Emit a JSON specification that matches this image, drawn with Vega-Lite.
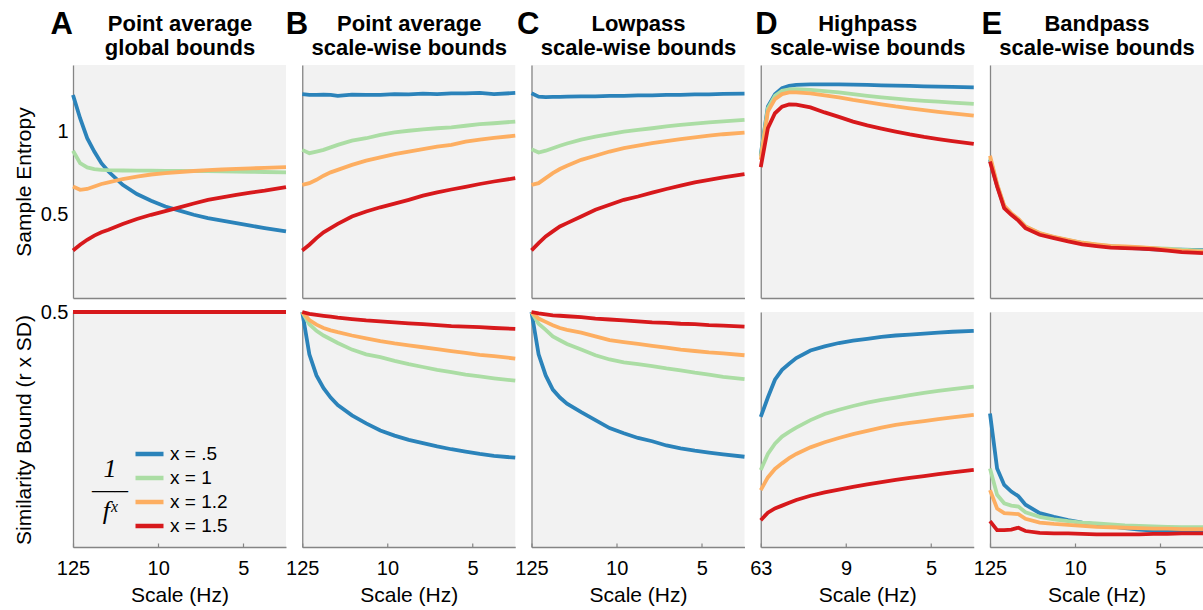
{
"$schema":"https://vega.github.io/schema/vega-lite/v6.json",
"padding":{"left":13,"top":8,"right":0,"bottom":1},
"background":"white",
"datasets":{
"At":[
{"exp":".5","s":1,"v":1.22},{"exp":".5","s":2,"v":1.08},{"exp":".5","s":3,"v":0.96},{"exp":".5","s":4,"v":0.88},{"exp":".5","s":5,"v":0.81},{"exp":".5","s":6,"v":0.76},{"exp":".5","s":8,"v":0.68},{"exp":".5","s":10,"v":0.625},{"exp":".5","s":12,"v":0.585},{"exp":".5","s":14,"v":0.55},{"exp":".5","s":16,"v":0.525},{"exp":".5","s":18,"v":0.5},{"exp":".5","s":20,"v":0.48},{"exp":".5","s":22,"v":0.465},{"exp":".5","s":24,"v":0.45},{"exp":".5","s":26,"v":0.435},{"exp":".5","s":28,"v":0.42},{"exp":".5","s":31,"v":0.4},
{"exp":"1","s":1,"v":0.885},{"exp":"1","s":2,"v":0.81},{"exp":"1","s":3,"v":0.785},{"exp":"1","s":4,"v":0.775},{"exp":"1","s":5,"v":0.77},{"exp":"1","s":6,"v":0.768},{"exp":"1","s":8,"v":0.766},{"exp":"1","s":10,"v":0.765},{"exp":"1","s":12,"v":0.765},{"exp":"1","s":14,"v":0.764},{"exp":"1","s":16,"v":0.763},{"exp":"1","s":18,"v":0.762},{"exp":"1","s":20,"v":0.763},{"exp":"1","s":22,"v":0.761},{"exp":"1","s":24,"v":0.76},{"exp":"1","s":26,"v":0.758},{"exp":"1","s":28,"v":0.757},{"exp":"1","s":31,"v":0.755},
{"exp":"1.2","s":1,"v":0.67},{"exp":"1.2","s":2,"v":0.65},{"exp":"1.2","s":3,"v":0.655},{"exp":"1.2","s":4,"v":0.67},{"exp":"1.2","s":5,"v":0.685},{"exp":"1.2","s":6,"v":0.695},{"exp":"1.2","s":8,"v":0.715},{"exp":"1.2","s":10,"v":0.73},{"exp":"1.2","s":12,"v":0.742},{"exp":"1.2","s":14,"v":0.75},{"exp":"1.2","s":16,"v":0.757},{"exp":"1.2","s":18,"v":0.763},{"exp":"1.2","s":20,"v":0.768},{"exp":"1.2","s":22,"v":0.772},{"exp":"1.2","s":24,"v":0.776},{"exp":"1.2","s":26,"v":0.779},{"exp":"1.2","s":28,"v":0.782},{"exp":"1.2","s":31,"v":0.786},
{"exp":"1.5","s":1,"v":0.286},{"exp":"1.5","s":2,"v":0.32},{"exp":"1.5","s":3,"v":0.35},{"exp":"1.5","s":4,"v":0.375},{"exp":"1.5","s":5,"v":0.395},{"exp":"1.5","s":6,"v":0.41},{"exp":"1.5","s":8,"v":0.445},{"exp":"1.5","s":10,"v":0.475},{"exp":"1.5","s":12,"v":0.5},{"exp":"1.5","s":14,"v":0.522},{"exp":"1.5","s":16,"v":0.545},{"exp":"1.5","s":18,"v":0.568},{"exp":"1.5","s":20,"v":0.59},{"exp":"1.5","s":22,"v":0.605},{"exp":"1.5","s":24,"v":0.62},{"exp":"1.5","s":26,"v":0.633},{"exp":"1.5","s":28,"v":0.645},{"exp":"1.5","s":31,"v":0.666}
],
"Ab":[
{"exp":".5","s":1,"v":0.5},{"exp":".5","s":8,"v":0.5},{"exp":".5","s":16,"v":0.5},{"exp":".5","s":24,"v":0.5},{"exp":".5","s":31,"v":0.5},
{"exp":"1","s":1,"v":0.5},{"exp":"1","s":8,"v":0.5},{"exp":"1","s":16,"v":0.5},{"exp":"1","s":24,"v":0.5},{"exp":"1","s":31,"v":0.5},
{"exp":"1.2","s":1,"v":0.5},{"exp":"1.2","s":8,"v":0.5},{"exp":"1.2","s":16,"v":0.5},{"exp":"1.2","s":24,"v":0.5},{"exp":"1.2","s":31,"v":0.5},
{"exp":"1.5","s":1,"v":0.5},{"exp":"1.5","s":8,"v":0.5},{"exp":"1.5","s":16,"v":0.5},{"exp":"1.5","s":24,"v":0.5},{"exp":"1.5","s":31,"v":0.5}
],
"Bt":[
{"exp":".5","s":1,"v":1.225},{"exp":".5","s":2,"v":1.22},{"exp":".5","s":3,"v":1.22},{"exp":".5","s":4,"v":1.222},{"exp":".5","s":5,"v":1.22},{"exp":".5","s":6,"v":1.215},{"exp":".5","s":8,"v":1.222},{"exp":".5","s":10,"v":1.22},{"exp":".5","s":12,"v":1.22},{"exp":".5","s":14,"v":1.225},{"exp":".5","s":16,"v":1.224},{"exp":".5","s":18,"v":1.228},{"exp":".5","s":20,"v":1.225},{"exp":".5","s":22,"v":1.23},{"exp":".5","s":24,"v":1.23},{"exp":".5","s":26,"v":1.232},{"exp":".5","s":28,"v":1.225},{"exp":".5","s":31,"v":1.232},
{"exp":"1","s":1,"v":0.89},{"exp":"1","s":2,"v":0.87},{"exp":"1","s":3,"v":0.88},{"exp":"1","s":4,"v":0.89},{"exp":"1","s":5,"v":0.905},{"exp":"1","s":6,"v":0.92},{"exp":"1","s":8,"v":0.945},{"exp":"1","s":10,"v":0.96},{"exp":"1","s":12,"v":0.98},{"exp":"1","s":14,"v":0.995},{"exp":"1","s":16,"v":1.005},{"exp":"1","s":18,"v":1.013},{"exp":"1","s":20,"v":1.02},{"exp":"1","s":22,"v":1.025},{"exp":"1","s":24,"v":1.035},{"exp":"1","s":26,"v":1.045},{"exp":"1","s":28,"v":1.05},{"exp":"1","s":31,"v":1.06},
{"exp":"1.2","s":1,"v":0.68},{"exp":"1.2","s":2,"v":0.69},{"exp":"1.2","s":3,"v":0.71},{"exp":"1.2","s":4,"v":0.735},{"exp":"1.2","s":5,"v":0.755},{"exp":"1.2","s":6,"v":0.77},{"exp":"1.2","s":8,"v":0.8},{"exp":"1.2","s":10,"v":0.825},{"exp":"1.2","s":12,"v":0.845},{"exp":"1.2","s":14,"v":0.865},{"exp":"1.2","s":16,"v":0.88},{"exp":"1.2","s":18,"v":0.895},{"exp":"1.2","s":20,"v":0.91},{"exp":"1.2","s":22,"v":0.92},{"exp":"1.2","s":24,"v":0.94},{"exp":"1.2","s":26,"v":0.952},{"exp":"1.2","s":28,"v":0.962},{"exp":"1.2","s":31,"v":0.975},
{"exp":"1.5","s":1,"v":0.286},{"exp":"1.5","s":2,"v":0.32},{"exp":"1.5","s":3,"v":0.36},{"exp":"1.5","s":4,"v":0.395},{"exp":"1.5","s":5,"v":0.42},{"exp":"1.5","s":6,"v":0.445},{"exp":"1.5","s":8,"v":0.49},{"exp":"1.5","s":10,"v":0.52},{"exp":"1.5","s":12,"v":0.545},{"exp":"1.5","s":14,"v":0.567},{"exp":"1.5","s":16,"v":0.59},{"exp":"1.5","s":18,"v":0.615},{"exp":"1.5","s":20,"v":0.635},{"exp":"1.5","s":22,"v":0.652},{"exp":"1.5","s":24,"v":0.668},{"exp":"1.5","s":26,"v":0.685},{"exp":"1.5","s":28,"v":0.7},{"exp":"1.5","s":31,"v":0.72}
],
"Bb":[
{"exp":".5","s":1,"v":0.5},{"exp":".5","s":2,"v":0.41},{"exp":".5","s":3,"v":0.365},{"exp":".5","s":4,"v":0.338},{"exp":".5","s":5,"v":0.318},{"exp":".5","s":6,"v":0.302},{"exp":".5","s":8,"v":0.28},{"exp":".5","s":10,"v":0.263},{"exp":".5","s":12,"v":0.248},{"exp":".5","s":14,"v":0.237},{"exp":".5","s":16,"v":0.228},{"exp":".5","s":18,"v":0.221},{"exp":".5","s":20,"v":0.214},{"exp":".5","s":22,"v":0.208},{"exp":".5","s":24,"v":0.203},{"exp":".5","s":26,"v":0.198},{"exp":".5","s":28,"v":0.194},{"exp":".5","s":31,"v":0.19},
{"exp":"1","s":1,"v":0.5},{"exp":"1","s":2,"v":0.474},{"exp":"1","s":3,"v":0.46},{"exp":"1","s":4,"v":0.45},{"exp":"1","s":5,"v":0.442},{"exp":"1","s":6,"v":0.434},{"exp":"1","s":8,"v":0.42},{"exp":"1","s":10,"v":0.41},{"exp":"1","s":12,"v":0.404},{"exp":"1","s":14,"v":0.396},{"exp":"1","s":16,"v":0.389},{"exp":"1","s":18,"v":0.383},{"exp":"1","s":20,"v":0.377},{"exp":"1","s":22,"v":0.372},{"exp":"1","s":24,"v":0.367},{"exp":"1","s":26,"v":0.363},{"exp":"1","s":28,"v":0.359},{"exp":"1","s":31,"v":0.354},
{"exp":"1.2","s":1,"v":0.5},{"exp":"1.2","s":2,"v":0.483},{"exp":"1.2","s":3,"v":0.473},{"exp":"1.2","s":4,"v":0.466},{"exp":"1.2","s":5,"v":0.461},{"exp":"1.2","s":6,"v":0.457},{"exp":"1.2","s":8,"v":0.45},{"exp":"1.2","s":10,"v":0.444},{"exp":"1.2","s":12,"v":0.438},{"exp":"1.2","s":14,"v":0.433},{"exp":"1.2","s":16,"v":0.429},{"exp":"1.2","s":18,"v":0.425},{"exp":"1.2","s":20,"v":0.421},{"exp":"1.2","s":22,"v":0.417},{"exp":"1.2","s":24,"v":0.413},{"exp":"1.2","s":26,"v":0.409},{"exp":"1.2","s":28,"v":0.406},{"exp":"1.2","s":31,"v":0.401},
{"exp":"1.5","s":1,"v":0.5},{"exp":"1.5","s":2,"v":0.496},{"exp":"1.5","s":3,"v":0.494},{"exp":"1.5","s":4,"v":0.492},{"exp":"1.5","s":5,"v":0.49},{"exp":"1.5","s":6,"v":0.488},{"exp":"1.5","s":8,"v":0.485},{"exp":"1.5","s":10,"v":0.482},{"exp":"1.5","s":12,"v":0.48},{"exp":"1.5","s":14,"v":0.478},{"exp":"1.5","s":16,"v":0.476},{"exp":"1.5","s":18,"v":0.474},{"exp":"1.5","s":20,"v":0.472},{"exp":"1.5","s":22,"v":0.47},{"exp":"1.5","s":24,"v":0.469},{"exp":"1.5","s":26,"v":0.468},{"exp":"1.5","s":28,"v":0.466},{"exp":"1.5","s":31,"v":0.464}
],
"Ct":[
{"exp":".5","s":1,"v":1.23},{"exp":".5","s":2,"v":1.21},{"exp":".5","s":3,"v":1.207},{"exp":".5","s":4,"v":1.208},{"exp":".5","s":5,"v":1.209},{"exp":".5","s":6,"v":1.21},{"exp":".5","s":8,"v":1.211},{"exp":".5","s":10,"v":1.212},{"exp":".5","s":12,"v":1.214},{"exp":".5","s":14,"v":1.215},{"exp":".5","s":16,"v":1.217},{"exp":".5","s":18,"v":1.218},{"exp":".5","s":20,"v":1.22},{"exp":".5","s":22,"v":1.221},{"exp":".5","s":24,"v":1.223},{"exp":".5","s":26,"v":1.224},{"exp":".5","s":28,"v":1.226},{"exp":".5","s":31,"v":1.228},
{"exp":"1","s":1,"v":0.894},{"exp":"1","s":2,"v":0.874},{"exp":"1","s":3,"v":0.885},{"exp":"1","s":4,"v":0.9},{"exp":"1","s":5,"v":0.915},{"exp":"1","s":6,"v":0.928},{"exp":"1","s":8,"v":0.952},{"exp":"1","s":10,"v":0.97},{"exp":"1","s":12,"v":0.985},{"exp":"1","s":14,"v":1.0},{"exp":"1","s":16,"v":1.01},{"exp":"1","s":18,"v":1.02},{"exp":"1","s":20,"v":1.031},{"exp":"1","s":22,"v":1.04},{"exp":"1","s":24,"v":1.048},{"exp":"1","s":26,"v":1.055},{"exp":"1","s":28,"v":1.061},{"exp":"1","s":31,"v":1.07},
{"exp":"1.2","s":1,"v":0.68},{"exp":"1.2","s":2,"v":0.69},{"exp":"1.2","s":3,"v":0.72},{"exp":"1.2","s":4,"v":0.75},{"exp":"1.2","s":5,"v":0.775},{"exp":"1.2","s":6,"v":0.795},{"exp":"1.2","s":8,"v":0.83},{"exp":"1.2","s":10,"v":0.855},{"exp":"1.2","s":12,"v":0.88},{"exp":"1.2","s":14,"v":0.9},{"exp":"1.2","s":16,"v":0.915},{"exp":"1.2","s":18,"v":0.93},{"exp":"1.2","s":20,"v":0.943},{"exp":"1.2","s":22,"v":0.955},{"exp":"1.2","s":24,"v":0.965},{"exp":"1.2","s":26,"v":0.975},{"exp":"1.2","s":28,"v":0.984},{"exp":"1.2","s":31,"v":0.994},
{"exp":"1.5","s":1,"v":0.286},{"exp":"1.5","s":2,"v":0.33},{"exp":"1.5","s":3,"v":0.37},{"exp":"1.5","s":4,"v":0.4},{"exp":"1.5","s":5,"v":0.43},{"exp":"1.5","s":6,"v":0.45},{"exp":"1.5","s":8,"v":0.49},{"exp":"1.5","s":10,"v":0.53},{"exp":"1.5","s":12,"v":0.56},{"exp":"1.5","s":14,"v":0.59},{"exp":"1.5","s":16,"v":0.61},{"exp":"1.5","s":18,"v":0.633},{"exp":"1.5","s":20,"v":0.655},{"exp":"1.5","s":22,"v":0.675},{"exp":"1.5","s":24,"v":0.695},{"exp":"1.5","s":26,"v":0.71},{"exp":"1.5","s":28,"v":0.725},{"exp":"1.5","s":31,"v":0.744}
],
"Cb":[
{"exp":".5","s":1,"v":0.5},{"exp":".5","s":2,"v":0.41},{"exp":".5","s":3,"v":0.365},{"exp":".5","s":4,"v":0.335},{"exp":".5","s":5,"v":0.318},{"exp":".5","s":6,"v":0.305},{"exp":".5","s":8,"v":0.287},{"exp":".5","s":10,"v":0.27},{"exp":".5","s":12,"v":0.253},{"exp":".5","s":14,"v":0.242},{"exp":".5","s":16,"v":0.232},{"exp":".5","s":18,"v":0.225},{"exp":".5","s":20,"v":0.216},{"exp":".5","s":22,"v":0.21},{"exp":".5","s":24,"v":0.205},{"exp":".5","s":26,"v":0.201},{"exp":".5","s":28,"v":0.197},{"exp":".5","s":31,"v":0.192},
{"exp":"1","s":1,"v":0.5},{"exp":"1","s":2,"v":0.475},{"exp":"1","s":3,"v":0.462},{"exp":"1","s":4,"v":0.448},{"exp":"1","s":5,"v":0.44},{"exp":"1","s":6,"v":0.432},{"exp":"1","s":8,"v":0.42},{"exp":"1","s":10,"v":0.408},{"exp":"1","s":12,"v":0.399},{"exp":"1","s":14,"v":0.393},{"exp":"1","s":16,"v":0.389},{"exp":"1","s":18,"v":0.385},{"exp":"1","s":20,"v":0.38},{"exp":"1","s":22,"v":0.376},{"exp":"1","s":24,"v":0.371},{"exp":"1","s":26,"v":0.367},{"exp":"1","s":28,"v":0.362},{"exp":"1","s":31,"v":0.357},
{"exp":"1.2","s":1,"v":0.5},{"exp":"1.2","s":2,"v":0.486},{"exp":"1.2","s":3,"v":0.479},{"exp":"1.2","s":4,"v":0.472},{"exp":"1.2","s":5,"v":0.466},{"exp":"1.2","s":6,"v":0.462},{"exp":"1.2","s":8,"v":0.456},{"exp":"1.2","s":10,"v":0.448},{"exp":"1.2","s":12,"v":0.44},{"exp":"1.2","s":14,"v":0.436},{"exp":"1.2","s":16,"v":0.432},{"exp":"1.2","s":18,"v":0.428},{"exp":"1.2","s":20,"v":0.424},{"exp":"1.2","s":22,"v":0.42},{"exp":"1.2","s":24,"v":0.417},{"exp":"1.2","s":26,"v":0.414},{"exp":"1.2","s":28,"v":0.412},{"exp":"1.2","s":31,"v":0.408},
{"exp":"1.5","s":1,"v":0.5},{"exp":"1.5","s":2,"v":0.497},{"exp":"1.5","s":3,"v":0.495},{"exp":"1.5","s":4,"v":0.493},{"exp":"1.5","s":5,"v":0.492},{"exp":"1.5","s":6,"v":0.491},{"exp":"1.5","s":8,"v":0.489},{"exp":"1.5","s":10,"v":0.486},{"exp":"1.5","s":12,"v":0.484},{"exp":"1.5","s":14,"v":0.482},{"exp":"1.5","s":16,"v":0.48},{"exp":"1.5","s":18,"v":0.478},{"exp":"1.5","s":20,"v":0.477},{"exp":"1.5","s":22,"v":0.475},{"exp":"1.5","s":24,"v":0.474},{"exp":"1.5","s":26,"v":0.472},{"exp":"1.5","s":28,"v":0.471},{"exp":"1.5","s":31,"v":0.469}
],
"Dt":[
{"exp":".5","s":2,"v":0.86},{"exp":".5","s":3,"v":1.15},{"exp":".5","s":4,"v":1.225},{"exp":".5","s":5,"v":1.26},{"exp":".5","s":6,"v":1.275},{"exp":".5","s":7,"v":1.281},{"exp":".5","s":9,"v":1.284},{"exp":".5","s":11,"v":1.284},{"exp":".5","s":13,"v":1.283},{"exp":".5","s":15,"v":1.282},{"exp":".5","s":17,"v":1.28},{"exp":".5","s":19,"v":1.278},{"exp":".5","s":21,"v":1.276},{"exp":".5","s":23,"v":1.274},{"exp":".5","s":25,"v":1.272},{"exp":".5","s":27,"v":1.27},{"exp":".5","s":29,"v":1.268},{"exp":".5","s":32,"v":1.266},
{"exp":"1","s":2,"v":0.85},{"exp":"1","s":3,"v":1.14},{"exp":"1","s":4,"v":1.215},{"exp":"1","s":5,"v":1.245},{"exp":"1","s":6,"v":1.253},{"exp":"1","s":7,"v":1.255},{"exp":"1","s":9,"v":1.251},{"exp":"1","s":11,"v":1.243},{"exp":"1","s":13,"v":1.235},{"exp":"1","s":15,"v":1.225},{"exp":"1","s":17,"v":1.215},{"exp":"1","s":19,"v":1.206},{"exp":"1","s":21,"v":1.198},{"exp":"1","s":23,"v":1.191},{"exp":"1","s":25,"v":1.185},{"exp":"1","s":27,"v":1.18},{"exp":"1","s":29,"v":1.174},{"exp":"1","s":32,"v":1.166},
{"exp":"1.2","s":2,"v":0.83},{"exp":"1.2","s":3,"v":1.12},{"exp":"1.2","s":4,"v":1.195},{"exp":"1.2","s":5,"v":1.225},{"exp":"1.2","s":6,"v":1.235},{"exp":"1.2","s":7,"v":1.236},{"exp":"1.2","s":9,"v":1.23},{"exp":"1.2","s":11,"v":1.217},{"exp":"1.2","s":13,"v":1.205},{"exp":"1.2","s":15,"v":1.19},{"exp":"1.2","s":17,"v":1.177},{"exp":"1.2","s":19,"v":1.164},{"exp":"1.2","s":21,"v":1.151},{"exp":"1.2","s":23,"v":1.14},{"exp":"1.2","s":25,"v":1.129},{"exp":"1.2","s":27,"v":1.119},{"exp":"1.2","s":29,"v":1.109},{"exp":"1.2","s":32,"v":1.096},
{"exp":"1.5","s":2,"v":0.786},{"exp":"1.5","s":3,"v":1.02},{"exp":"1.5","s":4,"v":1.11},{"exp":"1.5","s":5,"v":1.15},{"exp":"1.5","s":6,"v":1.163},{"exp":"1.5","s":7,"v":1.162},{"exp":"1.5","s":9,"v":1.145},{"exp":"1.5","s":11,"v":1.115},{"exp":"1.5","s":13,"v":1.088},{"exp":"1.5","s":15,"v":1.06},{"exp":"1.5","s":17,"v":1.037},{"exp":"1.5","s":19,"v":1.018},{"exp":"1.5","s":21,"v":1.0},{"exp":"1.5","s":23,"v":0.983},{"exp":"1.5","s":25,"v":0.968},{"exp":"1.5","s":27,"v":0.955},{"exp":"1.5","s":29,"v":0.943},{"exp":"1.5","s":32,"v":0.926}
],
"Db":[
{"exp":".5","s":2,"v":0.277},{"exp":".5","s":3,"v":0.318},{"exp":".5","s":4,"v":0.356},{"exp":".5","s":5,"v":0.377},{"exp":".5","s":6,"v":0.39},{"exp":".5","s":7,"v":0.402},{"exp":".5","s":9,"v":0.418},{"exp":".5","s":11,"v":0.427},{"exp":".5","s":13,"v":0.434},{"exp":".5","s":15,"v":0.439},{"exp":".5","s":17,"v":0.443},{"exp":".5","s":19,"v":0.447},{"exp":".5","s":21,"v":0.45},{"exp":".5","s":23,"v":0.452},{"exp":".5","s":25,"v":0.454},{"exp":".5","s":27,"v":0.456},{"exp":".5","s":29,"v":0.458},{"exp":".5","s":32,"v":0.46},
{"exp":"1","s":2,"v":0.164},{"exp":"1","s":3,"v":0.198},{"exp":"1","s":4,"v":0.22},{"exp":"1","s":5,"v":0.235},{"exp":"1","s":6,"v":0.245},{"exp":"1","s":7,"v":0.254},{"exp":"1","s":9,"v":0.27},{"exp":"1","s":11,"v":0.283},{"exp":"1","s":13,"v":0.292},{"exp":"1","s":15,"v":0.3},{"exp":"1","s":17,"v":0.307},{"exp":"1","s":19,"v":0.313},{"exp":"1","s":21,"v":0.318},{"exp":"1","s":23,"v":0.323},{"exp":"1","s":25,"v":0.328},{"exp":"1","s":27,"v":0.332},{"exp":"1","s":29,"v":0.336},{"exp":"1","s":32,"v":0.341},
{"exp":"1.2","s":2,"v":0.121},{"exp":"1.2","s":3,"v":0.148},{"exp":"1.2","s":4,"v":0.166},{"exp":"1.2","s":5,"v":0.178},{"exp":"1.2","s":6,"v":0.189},{"exp":"1.2","s":7,"v":0.198},{"exp":"1.2","s":9,"v":0.212},{"exp":"1.2","s":11,"v":0.223},{"exp":"1.2","s":13,"v":0.232},{"exp":"1.2","s":15,"v":0.24},{"exp":"1.2","s":17,"v":0.247},{"exp":"1.2","s":19,"v":0.254},{"exp":"1.2","s":21,"v":0.26},{"exp":"1.2","s":23,"v":0.264},{"exp":"1.2","s":25,"v":0.268},{"exp":"1.2","s":27,"v":0.272},{"exp":"1.2","s":29,"v":0.276},{"exp":"1.2","s":32,"v":0.281},
{"exp":"1.5","s":2,"v":0.057},{"exp":"1.5","s":3,"v":0.073},{"exp":"1.5","s":4,"v":0.082},{"exp":"1.5","s":5,"v":0.088},{"exp":"1.5","s":6,"v":0.094},{"exp":"1.5","s":7,"v":0.1},{"exp":"1.5","s":9,"v":0.109},{"exp":"1.5","s":11,"v":0.116},{"exp":"1.5","s":13,"v":0.122},{"exp":"1.5","s":15,"v":0.128},{"exp":"1.5","s":17,"v":0.133},{"exp":"1.5","s":19,"v":0.138},{"exp":"1.5","s":21,"v":0.143},{"exp":"1.5","s":23,"v":0.147},{"exp":"1.5","s":25,"v":0.151},{"exp":"1.5","s":27,"v":0.155},{"exp":"1.5","s":29,"v":0.159},{"exp":"1.5","s":32,"v":0.164}
],
"Et":[
{"exp":".5","s":1,"v":0.83},{"exp":".5","s":2,"v":0.675},{"exp":".5","s":3,"v":0.548},{"exp":".5","s":4,"v":0.505},{"exp":".5","s":5,"v":0.47},{"exp":".5","s":6,"v":0.428},{"exp":".5","s":8,"v":0.386},{"exp":".5","s":10,"v":0.364},{"exp":".5","s":12,"v":0.346},{"exp":".5","s":14,"v":0.33},{"exp":".5","s":16,"v":0.318},{"exp":".5","s":18,"v":0.31},{"exp":".5","s":20,"v":0.302},{"exp":".5","s":22,"v":0.298},{"exp":".5","s":24,"v":0.292},{"exp":".5","s":26,"v":0.29},{"exp":".5","s":28,"v":0.29},{"exp":".5","s":31,"v":0.288},
{"exp":"1","s":1,"v":0.84},{"exp":"1","s":2,"v":0.68},{"exp":"1","s":3,"v":0.55},{"exp":"1","s":4,"v":0.505},{"exp":"1","s":5,"v":0.47},{"exp":"1","s":6,"v":0.43},{"exp":"1","s":8,"v":0.388},{"exp":"1","s":10,"v":0.365},{"exp":"1","s":12,"v":0.348},{"exp":"1","s":14,"v":0.332},{"exp":"1","s":16,"v":0.32},{"exp":"1","s":18,"v":0.312},{"exp":"1","s":20,"v":0.305},{"exp":"1","s":22,"v":0.302},{"exp":"1","s":24,"v":0.3},{"exp":"1","s":26,"v":0.296},{"exp":"1","s":28,"v":0.29},{"exp":"1","s":31,"v":0.284},
{"exp":"1.2","s":1,"v":0.855},{"exp":"1.2","s":2,"v":0.685},{"exp":"1.2","s":3,"v":0.555},{"exp":"1.2","s":4,"v":0.51},{"exp":"1.2","s":5,"v":0.475},{"exp":"1.2","s":6,"v":0.43},{"exp":"1.2","s":8,"v":0.39},{"exp":"1.2","s":10,"v":0.368},{"exp":"1.2","s":12,"v":0.35},{"exp":"1.2","s":14,"v":0.332},{"exp":"1.2","s":16,"v":0.322},{"exp":"1.2","s":18,"v":0.313},{"exp":"1.2","s":20,"v":0.31},{"exp":"1.2","s":22,"v":0.305},{"exp":"1.2","s":24,"v":0.3},{"exp":"1.2","s":26,"v":0.292},{"exp":"1.2","s":28,"v":0.284},{"exp":"1.2","s":31,"v":0.278},
{"exp":"1.5","s":1,"v":0.82},{"exp":"1.5","s":2,"v":0.67},{"exp":"1.5","s":3,"v":0.54},{"exp":"1.5","s":4,"v":0.5},{"exp":"1.5","s":5,"v":0.465},{"exp":"1.5","s":6,"v":0.42},{"exp":"1.5","s":8,"v":0.38},{"exp":"1.5","s":10,"v":0.36},{"exp":"1.5","s":12,"v":0.34},{"exp":"1.5","s":14,"v":0.322},{"exp":"1.5","s":16,"v":0.312},{"exp":"1.5","s":18,"v":0.303},{"exp":"1.5","s":20,"v":0.3},{"exp":"1.5","s":22,"v":0.297},{"exp":"1.5","s":24,"v":0.293},{"exp":"1.5","s":26,"v":0.285},{"exp":"1.5","s":28,"v":0.276},{"exp":"1.5","s":31,"v":0.27}
],
"Eb":[
{"exp":".5","s":1,"v":0.284},{"exp":".5","s":2,"v":0.167},{"exp":".5","s":3,"v":0.132},{"exp":".5","s":4,"v":0.118},{"exp":".5","s":5,"v":0.108},{"exp":".5","s":6,"v":0.09},{"exp":".5","s":8,"v":0.072},{"exp":".5","s":10,"v":0.064},{"exp":".5","s":12,"v":0.057},{"exp":".5","s":14,"v":0.052},{"exp":".5","s":16,"v":0.048},{"exp":".5","s":18,"v":0.044},{"exp":".5","s":20,"v":0.04},{"exp":".5","s":22,"v":0.037},{"exp":".5","s":24,"v":0.035},{"exp":".5","s":26,"v":0.034},{"exp":".5","s":28,"v":0.033},{"exp":".5","s":31,"v":0.033},
{"exp":"1","s":1,"v":0.167},{"exp":"1","s":2,"v":0.111},{"exp":"1","s":3,"v":0.093},{"exp":"1","s":4,"v":0.088},{"exp":"1","s":5,"v":0.086},{"exp":"1","s":6,"v":0.074},{"exp":"1","s":8,"v":0.064},{"exp":"1","s":10,"v":0.059},{"exp":"1","s":12,"v":0.055},{"exp":"1","s":14,"v":0.052},{"exp":"1","s":16,"v":0.05},{"exp":"1","s":18,"v":0.048},{"exp":"1","s":20,"v":0.046},{"exp":"1","s":22,"v":0.045},{"exp":"1","s":24,"v":0.044},{"exp":"1","s":26,"v":0.043},{"exp":"1","s":28,"v":0.042},{"exp":"1","s":31,"v":0.042},
{"exp":"1.2","s":1,"v":0.121},{"exp":"1.2","s":2,"v":0.082},{"exp":"1.2","s":3,"v":0.072},{"exp":"1.2","s":4,"v":0.071},{"exp":"1.2","s":5,"v":0.07},{"exp":"1.2","s":6,"v":0.06},{"exp":"1.2","s":8,"v":0.052},{"exp":"1.2","s":10,"v":0.049},{"exp":"1.2","s":12,"v":0.047},{"exp":"1.2","s":14,"v":0.045},{"exp":"1.2","s":16,"v":0.043},{"exp":"1.2","s":18,"v":0.042},{"exp":"1.2","s":20,"v":0.041},{"exp":"1.2","s":22,"v":0.04},{"exp":"1.2","s":24,"v":0.039},{"exp":"1.2","s":26,"v":0.039},{"exp":"1.2","s":28,"v":0.038},{"exp":"1.2","s":31,"v":0.038},
{"exp":"1.5","s":1,"v":0.055},{"exp":"1.5","s":2,"v":0.036},{"exp":"1.5","s":3,"v":0.036},{"exp":"1.5","s":4,"v":0.037},{"exp":"1.5","s":5,"v":0.041},{"exp":"1.5","s":6,"v":0.034},{"exp":"1.5","s":8,"v":0.03},{"exp":"1.5","s":10,"v":0.029},{"exp":"1.5","s":12,"v":0.029},{"exp":"1.5","s":14,"v":0.028},{"exp":"1.5","s":16,"v":0.027},{"exp":"1.5","s":18,"v":0.027},{"exp":"1.5","s":20,"v":0.027},{"exp":"1.5","s":22,"v":0.027},{"exp":"1.5","s":24,"v":0.028},{"exp":"1.5","s":26,"v":0.028},{"exp":"1.5","s":28,"v":0.029},{"exp":"1.5","s":31,"v":0.029}
]
},
"columns":5,
"bounds":"flush",
"spacing":{"row":14,"column":16.25},
"resolve":{"legend":{"color":"independent"}},
"concat":[
 {"data":{"name":"At"},"width":213,"height":233,
  "resolve":{"axis":{"x":"independent"}},
  "layer":[
   {"mark":{"type":"line","strokeWidth":3.8},
    "encoding":{
     "x":{"field":"s","type":"quantitative","scale":{"domain":[1,31],"nice":false,"zero":false},"axis":{"title":"A","titleX":-23,"titleY":-265,"titleAlign":"left","titleBaseline":"alphabetic","titleAngle":0,"titleFontSize":31,"titleFontWeight":"bold"}},
     "y":{"field":"v","type":"quantitative","scale":{"domain":[0,1.4],"nice":false},"axis":{"title":"Sample Entropy","labels":true,"values":[0.5,1],"format":"~g","labelPadding":5,"titlePadding":6}},
     "color":{"field":"exp","type":"nominal","scale":{"domain":[".5","1","1.2","1.5"],"range":["#2b83ba","#abdda4","#fdae61","#d7191c"]},"legend":null}}},
   {"mark":{"type":"rule","opacity":0},
    "encoding":{
     "x":{"field":"s","type":"quantitative","axis":{"orient":"top","domain":false,"title":["Point average","global bounds"],"titleX":106.5,"titleY":-42,"titleAlign":"center","titleBaseline":"middle","titleAngle":0,"titleFontSize":22,"titleFontWeight":"bold","titleLineHeight":24}}}}
  ]},
 {"data":{"name":"Bt"},"width":213,"height":233,
  "resolve":{"axis":{"x":"independent"}},
  "layer":[
   {"mark":{"type":"line","strokeWidth":3.8},
    "encoding":{
     "x":{"field":"s","type":"quantitative","scale":{"domain":[1,31],"nice":false,"zero":false},"axis":{"title":"B","titleX":-17,"titleY":-265,"titleAlign":"left","titleBaseline":"alphabetic","titleAngle":0,"titleFontSize":31,"titleFontWeight":"bold"}},
     "y":{"field":"v","type":"quantitative","scale":{"domain":[0,1.4],"nice":false},"axis":{"title":null}},
     "color":{"field":"exp","type":"nominal","scale":{"domain":[".5","1","1.2","1.5"],"range":["#2b83ba","#abdda4","#fdae61","#d7191c"]},"legend":null}}},
   {"mark":{"type":"rule","opacity":0},
    "encoding":{
     "x":{"field":"s","type":"quantitative","axis":{"orient":"top","domain":false,"title":["Point average","scale-wise bounds"],"titleX":106.5,"titleY":-42,"titleAlign":"center","titleBaseline":"middle","titleAngle":0,"titleFontSize":22,"titleFontWeight":"bold","titleLineHeight":24}}}}
  ]},
 {"data":{"name":"Ct"},"width":213,"height":233,
  "resolve":{"axis":{"x":"independent"}},
  "layer":[
   {"mark":{"type":"line","strokeWidth":3.8},
    "encoding":{
     "x":{"field":"s","type":"quantitative","scale":{"domain":[1,31],"nice":false,"zero":false},"axis":{"title":"C","titleX":-15,"titleY":-265,"titleAlign":"left","titleBaseline":"alphabetic","titleAngle":0,"titleFontSize":31,"titleFontWeight":"bold"}},
     "y":{"field":"v","type":"quantitative","scale":{"domain":[0,1.4],"nice":false},"axis":{"title":null}},
     "color":{"field":"exp","type":"nominal","scale":{"domain":[".5","1","1.2","1.5"],"range":["#2b83ba","#abdda4","#fdae61","#d7191c"]},"legend":null}}},
   {"mark":{"type":"rule","opacity":0},
    "encoding":{
     "x":{"field":"s","type":"quantitative","axis":{"orient":"top","domain":false,"title":["Lowpass","scale-wise bounds"],"titleX":106.5,"titleY":-42,"titleAlign":"center","titleBaseline":"middle","titleAngle":0,"titleFontSize":22,"titleFontWeight":"bold","titleLineHeight":24}}}}
  ]},
 {"data":{"name":"Dt"},"width":213,"height":233,
  "resolve":{"axis":{"x":"independent"}},
  "layer":[
   {"mark":{"type":"line","strokeWidth":3.8},
    "encoding":{
     "x":{"field":"s","type":"quantitative","scale":{"domain":[2,32],"nice":false,"zero":false},"axis":{"title":"D","titleX":-6,"titleY":-265,"titleAlign":"left","titleBaseline":"alphabetic","titleAngle":0,"titleFontSize":31,"titleFontWeight":"bold"}},
     "y":{"field":"v","type":"quantitative","scale":{"domain":[0,1.4],"nice":false},"axis":{"title":null}},
     "color":{"field":"exp","type":"nominal","scale":{"domain":[".5","1","1.2","1.5"],"range":["#2b83ba","#abdda4","#fdae61","#d7191c"]},"legend":null}}},
   {"mark":{"type":"rule","opacity":0},
    "encoding":{
     "x":{"field":"s","type":"quantitative","axis":{"orient":"top","domain":false,"title":["Highpass","scale-wise bounds"],"titleX":106.5,"titleY":-42,"titleAlign":"center","titleBaseline":"middle","titleAngle":0,"titleFontSize":22,"titleFontWeight":"bold","titleLineHeight":24}}}}
  ]},
 {"data":{"name":"Et"},"width":213,"height":233,
  "resolve":{"axis":{"x":"independent"}},
  "layer":[
   {"mark":{"type":"line","strokeWidth":3.8},
    "encoding":{
     "x":{"field":"s","type":"quantitative","scale":{"domain":[1,31],"nice":false,"zero":false},"axis":{"title":"E","titleX":-9,"titleY":-265,"titleAlign":"left","titleBaseline":"alphabetic","titleAngle":0,"titleFontSize":31,"titleFontWeight":"bold"}},
     "y":{"field":"v","type":"quantitative","scale":{"domain":[0,1.4],"nice":false},"axis":{"title":null}},
     "color":{"field":"exp","type":"nominal","scale":{"domain":[".5","1","1.2","1.5"],"range":["#2b83ba","#abdda4","#fdae61","#d7191c"]},"legend":null}}},
   {"mark":{"type":"rule","opacity":0},
    "encoding":{
     "x":{"field":"s","type":"quantitative","axis":{"orient":"top","domain":false,"title":["Bandpass","scale-wise bounds"],"titleX":106.5,"titleY":-42,"titleAlign":"center","titleBaseline":"middle","titleAngle":0,"titleFontSize":22,"titleFontWeight":"bold","titleLineHeight":24}}}}
  ]},
 {"data":{"name":"Ab"},"width":213,"height":235,
  "mark":{"type":"line","strokeWidth":3.8},
  "encoding":{
   "x":{"field":"s","type":"quantitative","scale":{"domain":[1,31],"nice":false,"zero":false},"axis":{"title":"Scale (Hz)","labels":true,"ticks":true,"values":[1,13,25],"labelExpr":"'' + round(125 / datum.value)"}},
   "y":{"field":"v","type":"quantitative","scale":{"domain":[0,0.5],"nice":false},"axis":{"title":"Similarity Bound (r x SD)","labels":true,"values":[0.5],"format":"~g","labelPadding":5,"titlePadding":6}},
   "color":{"field":"exp","type":"nominal","scale":{"domain":[".5","1","1.2","1.5"],"range":["#2b83ba","#abdda4","#fdae61","#d7191c"]},
    "legend":{"orient":"none","legendX":19,"legendY":132,"title":["1","—–","fˣ"],"titleOrient":"left","titleFont":"Liberation Serif","titleFontSize":26,"titleFontWeight":"normal","titleFontStyle":"italic","titleLineHeight":21,"titleAlign":"center","titlePadding":-14,"symbolType":"stroke","symbolSize":784,"symbolStrokeWidth":4.5,"labelFont":"Liberation Sans","labelFontSize":19,"labelColor":"#000","labelExpr":"'x = ' + datum.label","clipHeight":20,"rowPadding":4,"labelOffset":4,"padding":0}}}},
 {"data":{"name":"Bb"},"width":213,"height":235,
  "mark":{"type":"line","strokeWidth":3.8},
  "encoding":{
   "x":{"field":"s","type":"quantitative","scale":{"domain":[1,31],"nice":false,"zero":false},"axis":{"title":"Scale (Hz)","labels":true,"ticks":true,"values":[1,13,25],"labelExpr":"'' + round(125 / datum.value)"}},
   "y":{"field":"v","type":"quantitative","scale":{"domain":[0,0.5],"nice":false},"axis":{"title":null}},
   "color":{"field":"exp","type":"nominal","scale":{"domain":[".5","1","1.2","1.5"],"range":["#2b83ba","#abdda4","#fdae61","#d7191c"]},"legend":null}}},
 {"data":{"name":"Cb"},"width":213,"height":235,
  "mark":{"type":"line","strokeWidth":3.8},
  "encoding":{
   "x":{"field":"s","type":"quantitative","scale":{"domain":[1,31],"nice":false,"zero":false},"axis":{"title":"Scale (Hz)","labels":true,"ticks":true,"values":[1,13,25],"labelExpr":"'' + round(125 / datum.value)"}},
   "y":{"field":"v","type":"quantitative","scale":{"domain":[0,0.5],"nice":false},"axis":{"title":null}},
   "color":{"field":"exp","type":"nominal","scale":{"domain":[".5","1","1.2","1.5"],"range":["#2b83ba","#abdda4","#fdae61","#d7191c"]},"legend":null}}},
 {"data":{"name":"Db"},"width":213,"height":235,
  "mark":{"type":"line","strokeWidth":3.8},
  "encoding":{
   "x":{"field":"s","type":"quantitative","scale":{"domain":[2,32],"nice":false,"zero":false},"axis":{"title":"Scale (Hz)","labels":true,"ticks":true,"values":[2,14,26],"labelExpr":"'' + round(125 / datum.value)"}},
   "y":{"field":"v","type":"quantitative","scale":{"domain":[0,0.5],"nice":false},"axis":{"title":null}},
   "color":{"field":"exp","type":"nominal","scale":{"domain":[".5","1","1.2","1.5"],"range":["#2b83ba","#abdda4","#fdae61","#d7191c"]},"legend":null}}},
 {"data":{"name":"Eb"},"width":213,"height":235,
  "mark":{"type":"line","strokeWidth":3.8},
  "encoding":{
   "x":{"field":"s","type":"quantitative","scale":{"domain":[1,31],"nice":false,"zero":false},"axis":{"title":"Scale (Hz)","labels":true,"ticks":true,"values":[1,13,25],"labelExpr":"'' + round(125 / datum.value)"}},
   "y":{"field":"v","type":"quantitative","scale":{"domain":[0,0.5],"nice":false},"axis":{"title":null}},
   "color":{"field":"exp","type":"nominal","scale":{"domain":[".5","1","1.2","1.5"],"range":["#2b83ba","#abdda4","#fdae61","#d7191c"]},"legend":null}}}
],
"config":{
 "font":"Liberation Sans",
 "view":{"fill":"#f2f2f2","stroke":null},
 "axis":{"domainColor":"#858585","domainWidth":1.3,"grid":false,"ticks":false,"labels":false,"labelFlush":false,"tickColor":"#858585","tickWidth":1.2,"tickSize":-4,"labelFont":"Liberation Sans","labelFontSize":20,"labelColor":"#000","labelPadding":15,"labelOverlap":false,"titleFont":"Liberation Sans","titleFontSize":21,"titleFontWeight":"normal","titleColor":"#000","titlePadding":6}
}
}
